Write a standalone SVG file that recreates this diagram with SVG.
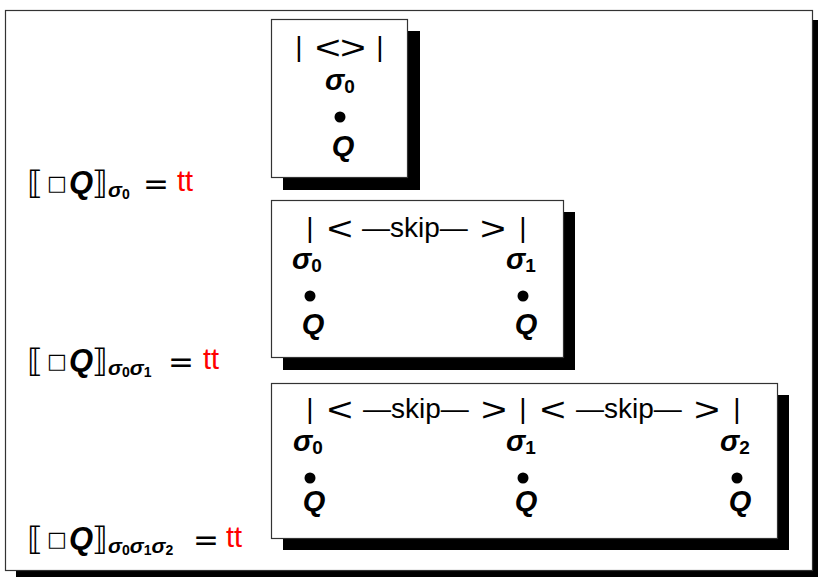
<svg xmlns="http://www.w3.org/2000/svg" width="818" height="577" viewBox="0 0 818 577">
<style>
.frame{fill:#fff;stroke:#333;stroke-width:1.2}
.shadow{fill:#000}
.rm{font-family:"Liberation Sans",Arial,sans-serif;font-size:28px;fill:#000}
.rel{font-family:"Liberation Sans",Arial,sans-serif;font-size:34px;fill:#000;text-anchor:middle}
.bi{font-family:"Liberation Sans",Arial,sans-serif;font-weight:bold;font-style:italic;fill:#000}
.sub{font-family:"Liberation Sans",Arial,sans-serif;font-weight:bold;fill:#000}
.sym{font-family:"DejaVu Sans",sans-serif;fill:#000}
.tt{font-family:"Liberation Sans",Arial,sans-serif;font-size:29px;fill:#ff0000}
.mid{text-anchor:middle}
</style>
<defs>
<circle id="dot" r="5.5" fill="#000"/>
</defs>

<g id="outer">
<rect class="shadow" x="16" y="20" width="807" height="560"/>
<rect class="frame" x="5.5" y="10.5" width="807" height="560"/>
</g>

<g id="box1">
<rect class="shadow" x="283" y="31" width="137" height="159"/>
<rect class="frame" x="271.5" y="19.5" width="136" height="158"/>
<text class="rm mid" x="299" y="56">|</text>
<text class="rel" transform="translate(328,59) scale(1.3,1)">&lt;</text>
<text class="rel" transform="translate(353,59) scale(1.3,1)">&gt;</text>
<text class="rm mid" x="380" y="56">|</text>
<text x="325" y="90"><tspan class="bi" font-size="29">σ</tspan><tspan class="sub" font-size="19" dy="3">0</tspan></text>
<use href="#dot" x="340" y="117"/>
<text class="bi mid" font-size="29" x="343" y="156">Q</text>
</g>

<g id="box2">
<rect class="shadow" x="283" y="212" width="292" height="158"/>
<rect class="frame" x="271.5" y="200.5" width="292" height="157"/>
<text class="rm mid" x="310" y="237">|</text>
<text class="rel" transform="translate(340,240) scale(1.3,1)">&lt;</text>
<text class="rm" x="362" y="237">—skip—</text>
<text class="rel" transform="translate(493,240) scale(1.3,1)">&gt;</text>
<text class="rm mid" x="523" y="237">|</text>
<text x="292" y="269"><tspan class="bi" font-size="29">σ</tspan><tspan class="sub" font-size="19" dy="3">0</tspan></text>
<text x="506" y="269"><tspan class="bi" font-size="29">σ</tspan><tspan class="sub" font-size="19" dy="3">1</tspan></text>
<use href="#dot" x="310" y="296"/>
<use href="#dot" x="523" y="296"/>
<text class="bi mid" font-size="29" x="313" y="334">Q</text>
<text class="bi mid" font-size="29" x="526" y="334">Q</text>
</g>

<g id="box3">
<rect class="shadow" x="283" y="395" width="506" height="155"/>
<rect class="frame" x="271.5" y="383.5" width="506" height="155"/>
<text class="rm mid" x="310" y="418">|</text>
<text class="rel" transform="translate(340,421) scale(1.3,1)">&lt;</text>
<text class="rm" x="363" y="418">—skip—</text>
<text class="rel" transform="translate(494,421) scale(1.3,1)">&gt;</text>
<text class="rm mid" x="523" y="418">|</text>
<text class="rel" transform="translate(553,421) scale(1.3,1)">&lt;</text>
<text class="rm" x="576" y="418">—skip—</text>
<text class="rel" transform="translate(707,421) scale(1.3,1)">&gt;</text>
<text class="rm mid" x="737" y="418">|</text>
<text x="293" y="451"><tspan class="bi" font-size="29">σ</tspan><tspan class="sub" font-size="19" dy="3">0</tspan></text>
<text x="506" y="451"><tspan class="bi" font-size="29">σ</tspan><tspan class="sub" font-size="19" dy="3">1</tspan></text>
<text x="720" y="451"><tspan class="bi" font-size="29">σ</tspan><tspan class="sub" font-size="19" dy="3">2</tspan></text>
<use href="#dot" x="310" y="478"/>
<use href="#dot" x="523" y="478"/>
<use href="#dot" x="737" y="478"/>
<text class="bi mid" font-size="29" x="314" y="511">Q</text>
<text class="bi mid" font-size="29" x="526" y="511">Q</text>
<text class="bi mid" font-size="29" x="740" y="511">Q</text>
</g>

<g id="label1">
<text y="194"><tspan class="sym" font-size="32" x="27">⟦</tspan><tspan class="sym" font-size="21" x="47" y="190">□</tspan><tspan class="bi" font-size="31" x="69" y="193">Q</tspan><tspan class="sym" font-size="32" x="92" y="194">⟧</tspan><tspan class="bi" font-size="21" x="108" y="197">σ</tspan><tspan class="sub" font-size="14" y="199">0</tspan><tspan class="sym" font-size="31" x="143" y="194">=</tspan><tspan class="tt" x="177" y="191">tt</tspan></text>
</g>

<g id="label2">
<text y="372"><tspan class="sym" font-size="32" x="27">⟦</tspan><tspan class="sym" font-size="21" x="47" y="368">□</tspan><tspan class="bi" font-size="31" x="69" y="371">Q</tspan><tspan class="sym" font-size="32" x="92" y="372">⟧</tspan><tspan class="bi" font-size="21" x="108" y="375">σ</tspan><tspan class="sub" font-size="14" y="377">0</tspan><tspan class="bi" font-size="21" y="375">σ</tspan><tspan class="sub" font-size="14" y="377">1</tspan><tspan class="sym" font-size="31" x="168" y="372">=</tspan><tspan class="tt" x="203" y="369">tt</tspan></text>
</g>

<g id="label3">
<text y="550"><tspan class="sym" font-size="32" x="27">⟦</tspan><tspan class="sym" font-size="21" x="47" y="546">□</tspan><tspan class="bi" font-size="31" x="69" y="549">Q</tspan><tspan class="sym" font-size="32" x="92" y="550">⟧</tspan><tspan class="bi" font-size="21" x="108" y="553">σ</tspan><tspan class="sub" font-size="14" y="555">0</tspan><tspan class="bi" font-size="21" y="553">σ</tspan><tspan class="sub" font-size="14" y="555">1</tspan><tspan class="bi" font-size="21" y="553">σ</tspan><tspan class="sub" font-size="14" y="555">2</tspan><tspan class="sym" font-size="31" x="193" y="550">=</tspan><tspan class="tt" x="226" y="547">tt</tspan></text>
</g>
</svg>
